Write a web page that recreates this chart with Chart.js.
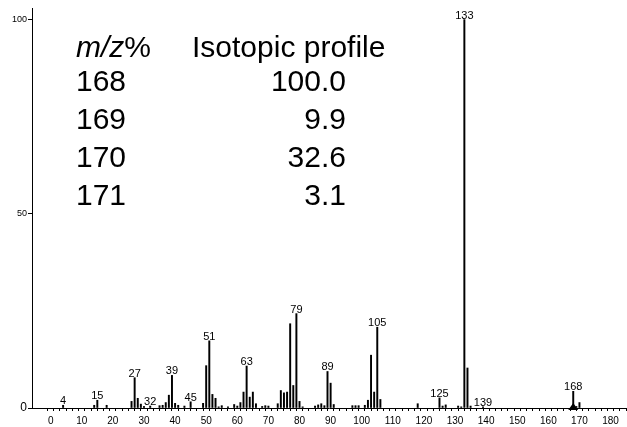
<!DOCTYPE html>
<html>
<head>
<meta charset="utf-8">
<script src="https://cdn.jsdelivr.net/npm/chart.js@4"></script>
<style>
html,body{margin:0;padding:0;background:#fff;}
#wrap{position:relative;width:627px;height:427px;}
</style>
</head>
<body>
<div id="wrap"><canvas id="c" width="627" height="427"></canvas></div>
<script>
// m/z values and relative intensities (%)
const mzValues = [4,14,15,18,26,27,28,29,30,32,35,36,37,38,39,40,41,43,45,49,50,51,52,53,54,55,57,59,60,61,62,63,64,65,66,68,69,70,73,74,75,76,77,78,79,80,81,85,86,87,88,89,90,91,97,98,99,101,102,103,104,105,106,118,125,126,127,131,132,133,134,135,139,168,169,170];
const intensities = [0.7,0.7,2.0,0.7,1.7,7.8,2.5,1.0,0.4,0.5,0.6,0.7,1.4,3.3,8.4,1.2,0.7,0.5,1.6,1.2,10.9,17.3,3.5,2.5,0.3,0.6,0.3,0.9,0.5,1.4,4.1,10.8,2.8,4.1,1.1,0.4,0.6,0.5,1.1,4.5,3.9,4.1,21.7,5.8,24.3,1.7,0.3,0.5,0.8,1.1,0.6,9.4,6.4,0.9,0.6,0.6,0.6,0.7,2.0,13.6,4.1,20.8,2.2,1.1,2.6,0.5,0.8,0.5,0.3,100,10.3,0.5,0.3,4.3,0.4,1.4];
const labeledPeaks = [4,15,27,32,39,45,51,63,79,89,105,125,133,139,168];
const molecularIon = 168;
const yTickValues = [0,50,100];
// isotopic profile table
const isoHeader = ["m/z", "%", "Isotopic profile"];
const isoMz = ["168","169","170","171"];
const isoProfile = ["100.0","9.9","32.6","3.1"];

const FONT = '"Liberation Sans", Arial, sans-serif';
const points = mzValues.map((m,i)=>({x:m,y:intensities[i]}));

const overlay = {
  id:'overlay',
  afterDatasetsDraw(chart){
    const ctx = chart.ctx, xs = chart.scales.x, ys = chart.scales.y;
    ctx.save();
    ctx.fillStyle = '#000';
    // peak labels
    ctx.font = '11px ' + FONT;
    ctx.textAlign = 'center';
    ctx.textBaseline = 'alphabetic';
    labeledPeaks.forEach(m=>{
      const i = mzValues.indexOf(m);
      const px = xs.getPixelForValue(m);
      const py = ys.getPixelForValue(intensities[i]);
      ctx.fillText(String(m), px, py - 1);
    });
    // molecular ion triangle
    const tx = xs.getPixelForValue(molecularIon), ty = ys.getPixelForValue(0);
    ctx.beginPath();
    ctx.moveTo(tx-5, ty+2);
    ctx.lineTo(tx+5, ty+2);
    ctx.lineTo(tx, ty-5);
    ctx.closePath();
    ctx.fill();
    // isotopic table
    ctx.textAlign = 'left';
    ctx.font = 'italic 30px ' + FONT;
    ctx.fillText(isoHeader[0], 76, 57);
    const w = ctx.measureText(isoHeader[0]).width;
    ctx.font = '30px ' + FONT;
    ctx.fillText(isoHeader[1], 76 + w, 57);
    ctx.fillText(isoHeader[2], 192, 57);
    isoMz.forEach((t,i)=>{
      const yb = 90.5 + i*38;
      ctx.textAlign = 'left';
      ctx.fillText(t, 76, yb);
      ctx.textAlign = 'right';
      ctx.fillText(isoProfile[i], 346, yb);
    });
    ctx.restore();
  }
};

new Chart(document.getElementById('c'), {
  type:'bar',
  data:{datasets:[{data:points, backgroundColor:'#000', borderWidth:0, barThickness:1.3, grouped:false}]},
  options:{
    responsive:false, animation:false,
    layout:{padding:{top:8,right:0,left:0,bottom:0}},
    plugins:{legend:{display:false}, tooltip:{enabled:false}},
    scales:{
      x:{type:'linear', min:-6, max:185, offset:false,
        afterBuildTicks(s){ const t=[]; for(let v=0; v<=184; v+=2) t.push({value:v}); s.ticks=t; },
        afterFit(s){ s.height = 19; },
        ticks:{autoSkip:false, maxRotation:0, minRotation:0, padding:4, color:'#000',
          font:{family:FONT, size:10},
          callback:(v)=> (v%10===0 ? String(v) : '')},
        grid:{display:true, drawOnChartArea:false, drawTicks:true, tickLength:3, color:'#000', lineWidth:1},
        border:{display:true, color:'#000', width:1}
      },
      y:{type:'linear', min:0, max:103,
        afterBuildTicks(s){ s.ticks = yTickValues.map(v=>({value:v})); },
        afterFit(s){ s.width = 32; },
        ticks:{color:'#000', padding:1,
          font:(c)=>({family:FONT, size: (c.tick && c.tick.value===0) ? 12 : 9}),
          callback:(v)=>String(v)},
        grid:{display:true, drawOnChartArea:false, drawTicks:true, tickLength:4, color:'#000'},
        border:{display:true, color:'#000', width:1}
      }
    }
  },
  plugins:[overlay]
});
</script>
</body>
</html>
